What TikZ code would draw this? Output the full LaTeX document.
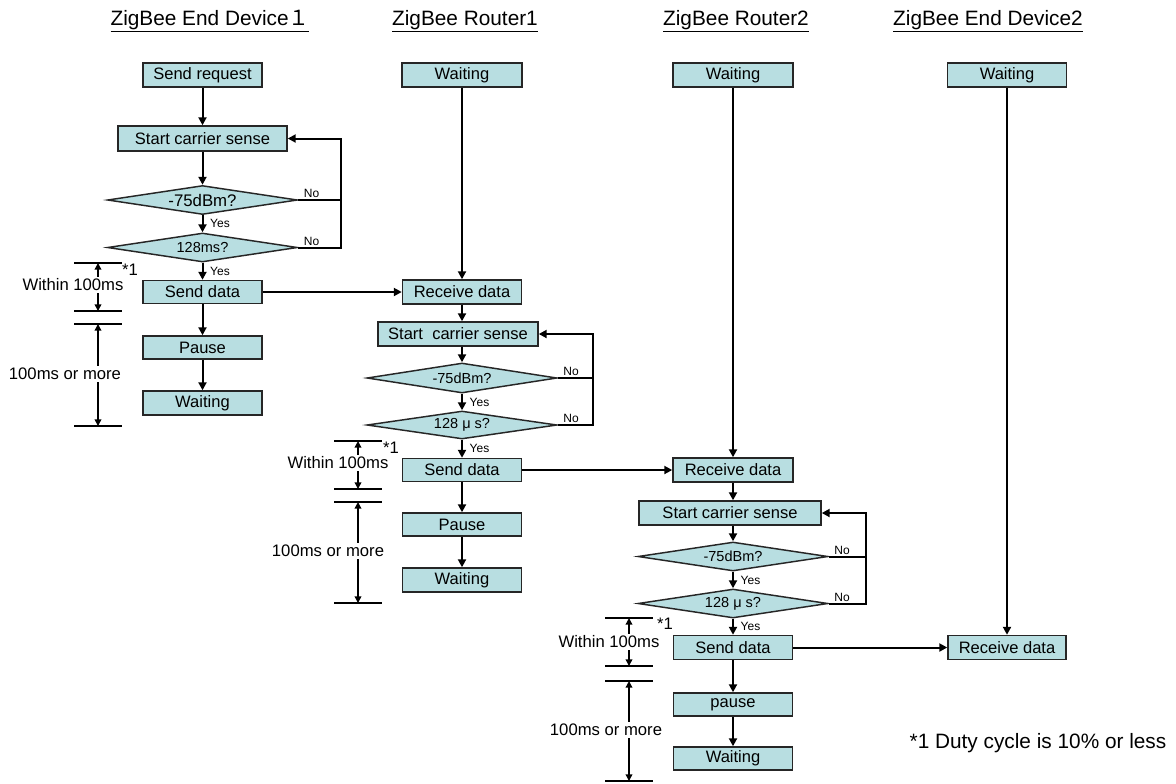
\documentclass[tikz,border=0pt]{standalone}
\usepackage{fontspec}
\setmainfont{Liberation Sans}
\newfontfamily\cjk{Noto Sans CJK JP}
\usetikzlibrary{arrows.meta,shapes.geometric,calc}
\definecolor{boxfill}{RGB}{184,222,225}
\begin{document}
\begin{tikzpicture}[x=0.75pt,y=-0.75pt,
  box/.style={draw=black!85,line width=1.1pt,fill=boxfill,inner sep=0pt,
    minimum width=89.25pt,minimum height=18pt,font=\fontsize{12.4}{14}\selectfont},
  dia/.style={diamond,aspect=6.5,draw=black!85,line width=1.1pt,fill=boxfill,inner sep=0pt,
    minimum width=142.5pt,minimum height=21.75pt,font=\fontsize{10.9}{12}\selectfont},
  arr/.style={line width=1.5pt,-{Triangle[length=6pt,width=6pt]}},
  conn/.style={line width=1.5pt},
  yn/.style={font=\fontsize{9}{10}\selectfont,inner sep=0pt},
  ttl/.style={font=\fontsize{15.6}{18}\selectfont,inner sep=0pt},
  lbl/.style={font=\fontsize{12.5}{14}\selectfont,inner sep=1.5pt},
  tick/.style={line width=1.1pt},
  tarr/.style={line width=1.1pt,-{Triangle[length=5pt,width=5pt]}},
]
\useasboundingbox (0,0) rectangle (1176,783);

% ---------------- ZigBee End Device 1 ----------------
\node[ttl] (t1) at (210,21) {\underline{ZigBee End Device{\cjk １}}};
\node[box] (sr1) at (202.5,75) {Send request};
\node[box,minimum width=126.75pt,minimum height=18.75pt] (cs1) at (202.5,138.5) {Start carrier sense};
\node[dia,font=\fontsize{12.6}{14}\selectfont] (d1a) at (202.5,200) {-75dBm?};
\node[dia] (d1b) at (202.5,247.5) {128ms?};
\node[box,minimum height=17.25pt] (sd1) at (202.5,292) {Send data};
\node[box,minimum height=17.25pt] (p1) at (202.5,347.5) {Pause};
\node[box] (w1) at (202.5,403) {Waiting};
\coordinate (l1) at (341,138.5);

\draw[arr] (sr1) -- (cs1);
\draw[arr] (cs1) -- (d1a);
\draw[arr] (d1a) -- node[yn,anchor=west,xshift=5pt] (y1a) {Yes} (d1b);
\draw[arr] (d1b) -- node[yn,anchor=west,xshift=5pt] (y1b) {Yes} (sd1);
\draw[arr] (sd1) -- (p1);
\draw[arr] (p1) -- (w1);
\draw[arr] (d1b.east) -- (d1b.east -| l1) -- (l1) -- (cs1.east);
\draw[conn] (d1a.east) -- (d1a.east -| l1);
\node[yn,anchor=south west] (n1a) at ([xshift=4pt,yshift=1.5pt]d1a.east) {No};
\node[yn,anchor=south west] (n1b) at ([xshift=4pt,yshift=1.5pt]d1b.east) {No};

% time marks 1
\coordinate (m1a) at (98,263);
\coordinate (m1b) at (98,311);
\coordinate (m1c) at (98,324);
\coordinate (m1d) at (98,426);
\draw[tick] (74,263) -- (122,263);
\draw[tick] (74,311) -- (122,311);
\draw[tick] (74,324) -- (122,324);
\draw[tick] (74,426) -- (122,426);
\node[lbl] (a1) at (73,285) {Within 100ms};
\node[lbl] (b1) at (65,374) {100ms or more};
\node[lbl,inner sep=0pt] (s1) at (130,270) {*1};
\draw[tarr] (a1.north -| m1a) -- (m1a);
\draw[tarr] (a1.south -| m1b) -- (m1b);
\draw[tarr] (b1.north -| m1c) -- (m1c);
\draw[tarr] (b1.south -| m1d) -- (m1d);

% ---------------- ZigBee Router 1 ----------------
\node[ttl] (t2) at (465,21) {\underline{ZigBee Router1}};
\node[box,minimum width=90pt] (w2a) at (462,75) {Waiting};
\node[box] (rd2) at (462,292) {Receive data};
\node[box,minimum width=120pt] (cs2) at (458,334) {Start\ \ carrier sense};
\node[dia,minimum height=22.5pt] (d2a) at (462,378) {-75dBm?};
\node[dia,minimum height=21pt] (d2b) at (462,425) {128 μ s?};
\node[box,minimum height=17.25pt] (sd2) at (462,470) {Send data};
\node[box,minimum height=17.25pt] (p2) at (462,524.5) {Pause};
\node[box] (w2b) at (462,580) {Waiting};
\coordinate (l2) at (593,334);

\draw[arr] (sd1) -- (rd2);
\draw[arr] (w2a) -- (rd2);
\draw[arr] (rd2.south) -- (rd2.south |- cs2.north);
\draw[arr] (d2a.north |- cs2.south) -- (d2a.north);
\draw[arr] (d2a) -- node[yn,anchor=west,xshift=5pt] (y2a) {Yes} (d2b);
\draw[arr] (d2b) -- node[yn,anchor=west,xshift=5pt] (y2b) {Yes} (sd2);
\draw[arr] (sd2) -- (p2);
\draw[arr] (p2) -- (w2b);
\draw[arr] (d2b.east) -- (d2b.east -| l2) -- (l2) -- (cs2.east);
\draw[conn] (d2a.east) -- (d2a.east -| l2);
\node[yn,anchor=south west] (n2a) at ([xshift=4pt,yshift=1.5pt]d2a.east) {No};
\node[yn,anchor=south west] (n2b) at ([xshift=4pt,yshift=1.5pt]d2b.east) {No};

% time marks 2
\coordinate (m2a) at (358,441);
\coordinate (m2b) at (358,489);
\coordinate (m2c) at (358,502);
\coordinate (m2d) at (358,603);
\draw[tick] (334,441) -- (382,441);
\draw[tick] (334,489) -- (382,489);
\draw[tick] (334,502) -- (382,502);
\draw[tick] (334,603) -- (382,603);
\node[lbl] (a2) at (338,463) {Within 100ms};
\node[lbl] (b2) at (328,551) {100ms or more};
\node[lbl,inner sep=0pt] (s2) at (391,448) {*1};
\draw[tarr] (a2.north -| m2a) -- (m2a);
\draw[tarr] (a2.south -| m2b) -- (m2b);
\draw[tarr] (b2.north -| m2c) -- (m2c);
\draw[tarr] (b2.south -| m2d) -- (m2d);

% ---------------- ZigBee Router 2 ----------------
\node[ttl] (t3) at (736,21) {\underline{ZigBee Router2}};
\node[box,minimum width=90pt] (w3a) at (733,75) {Waiting};
\node[box,minimum width=90pt] (rd3) at (733,470) {Receive data};
\node[box,minimum width=136.5pt] (cs3) at (730,513) {Start carrier sense};
\node[dia] (d3a) at (733,556.5) {-75dBm?};
\node[dia] (d3b) at (733,603.5) {128 μ s?};
\node[box] (sd3) at (733,647.5) {Send data};
\node[box,minimum height=17.25pt] (p3) at (733,704.5) {pause};
\node[box,minimum height=17.25pt] (w3b) at (733,758.5) {Waiting};
\coordinate (l3) at (866,513);

\draw[arr] (sd2) -- (rd3);
\draw[arr] (w3a) -- (rd3);
\draw[arr] (rd3.south) -- (rd3.south |- cs3.north);
\draw[arr] (d3a.north |- cs3.south) -- (d3a.north);
\draw[arr] (d3a) -- node[yn,anchor=west,xshift=5pt] (y3a) {Yes} (d3b);
\draw[arr] (d3b) -- node[yn,anchor=west,xshift=5pt] (y3b) {Yes} (sd3);
\draw[arr] (sd3) -- (p3);
\draw[arr] (p3) -- (w3b);
\draw[arr] (d3b.east) -- (d3b.east -| l3) -- (l3) -- (cs3.east);
\draw[conn] (d3a.east) -- (d3a.east -| l3);
\node[yn,anchor=south west] (n3a) at ([xshift=4pt,yshift=1.5pt]d3a.east) {No};
\node[yn,anchor=south west] (n3b) at ([xshift=4pt,yshift=1.5pt]d3b.east) {No};

% time marks 3
\coordinate (m3a) at (629,618);
\coordinate (m3b) at (629,666);
\coordinate (m3c) at (629,681);
\coordinate (m3d) at (629,781);
\draw[tick] (605,618) -- (653,618);
\draw[tick] (605,666) -- (653,666);
\draw[tick] (605,681) -- (653,681);
\draw[tick] (605,781) -- (653,781);
\node[lbl] (a3) at (609,642) {Within 100ms};
\node[lbl] (b3) at (606,730) {100ms or more};
\node[lbl,inner sep=0pt] (s3) at (665,624) {*1};
\draw[tarr] (a3.north -| m3a) -- (m3a);
\draw[tarr] (a3.south -| m3b) -- (m3b);
\draw[tarr] (b3.north -| m3c) -- (m3c);
\draw[tarr] (b3.south -| m3d) -- (m3d);

% ---------------- ZigBee End Device 2 ----------------
\node[ttl] (t4) at (988,21) {\underline{ZigBee End Device2}};
\node[box] (w4) at (1007,75) {Waiting};
\node[box,minimum width=88.5pt] (rd4) at (1007,647.5) {Receive data};
\draw[arr] (w4) -- (rd4);
\draw[arr] (sd3) -- (rd4);

\node[font=\fontsize{15.6}{18}\selectfont,inner sep=0pt] (fn) at (1038,743) {*1 Duty cycle is 10\% or less};
\end{tikzpicture}
\end{document}
